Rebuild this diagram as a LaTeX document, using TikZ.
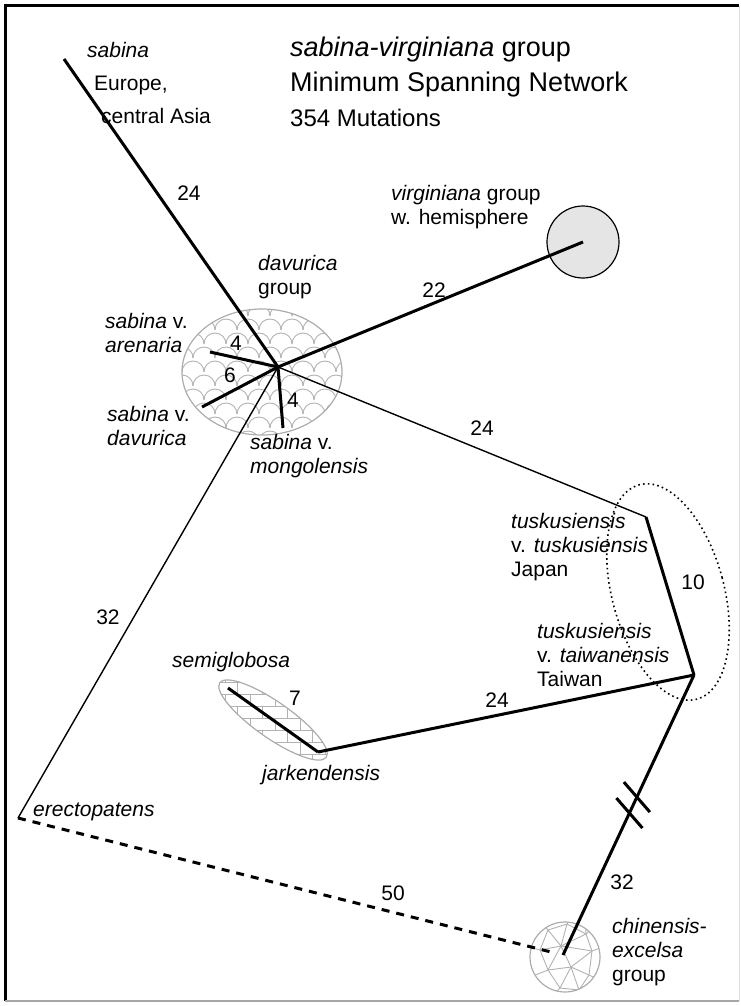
\documentclass[tikz,border=0pt]{standalone}
\usepackage{fontspec}
\setmainfont{Liberation Sans}
\usetikzlibrary{calc}

\begin{document}
\begin{tikzpicture}[x=1pt, y=-1pt,
  lbl/.style={font=\fontsize{21}{24}\selectfont, inner sep=0pt, align=left, anchor=west},
  num/.style={font=\fontsize{21}{24}\selectfont, inner sep=0pt},
  heavy/.style={line width=3pt},
  light/.style={line width=1.4pt},
  hatch/.style={gray!60, line width=0.9pt},
  rim/.style={gray!65, line width=1.2pt}]
  \useasboundingbox (0,0) rectangle (740,1006);
  \draw[line width=3pt] (5,1001) -- (5,6) -- (739,6);
  \draw[gray!70, line width=2pt] (5,1001) -- (739,1001);
  \draw[gray!25, line width=1pt] (739,6) -- (739,1001);

  \coordinate (hub) at (278,367);
  \coordinate (sab) at (64,59);
  \coordinate (are) at (210,352);
  \coordinate (dav) at (202,407);
  \coordinate (mon) at (283,428);
  \coordinate (jap) at (646,517);
  \coordinate (tai) at (694,675);
  \coordinate (jar) at (318,752);
  \coordinate (sem) at (228,688);
  \coordinate (ere) at (18,818);
  \coordinate (chi) at (563,955);
  \coordinate (chd) at (555,953);

  % davurica group
  \begin{scope}
    \clip (262,372) ellipse [x radius=80, y radius=63];
    \foreach \r [evaluate=\r as \off using {11*mod(\r,2)}] in {0,...,10}
      \foreach \c in {0,...,8}
        \draw[hatch] (171+22*\c+\off,302+14*\r) arc[start angle=180, end angle=360, radius=11];
  \end{scope}
  \draw[rim] (262,372) ellipse [x radius=80, y radius=63];

  % semiglobosa / jarkendensis
  \begin{scope}
    \clip[rotate around={-35:(273,720)}] (273,720) ellipse [x radius=65, y radius=18];
    \foreach \r [evaluate=\r as \off using {12.5*mod(\r,2)}] in {0,...,9} {
      \draw[hatch] (200,670+12*\r) -- (350,670+12*\r);
      \foreach \c in {0,...,6}
        \draw[hatch] (200+25*\c+\off,670+12*\r) -- ++(0,12);
    }
  \end{scope}
  \draw[rim, rotate around={-35:(273,720)}] (273,720) ellipse [x radius=65, y radius=18];

  % chinensis-excelsa group
  \begin{scope}
    \clip (565,957) circle [radius=35];
    \coordinate (ga) at (548,930); \coordinate (gb) at (567,924); \coordinate (gc) at (586,934);
    \coordinate (gd) at (540,950); \coordinate (ge) at (561,946); \coordinate (gf) at (592,951);
    \coordinate (gg) at (548,970); \coordinate (gh) at (571,967); \coordinate (gi) at (589,975);
    \coordinate (gj) at (560,988); \coordinate (gk) at (579,990);
    \foreach \p/\q in {ga/gb, gb/gc, ga/gd, ga/ge, gb/ge, gc/ge, gc/gf, gd/ge, ge/gf, gd/gg,
                       ge/gg, ge/gh, gf/gh, gf/gi, gg/gh, gh/gi, gg/gj, gh/gj, gh/gk, gi/gk, gj/gk}
      \draw[hatch] (\p) -- (\q);
    \foreach \p/\x/\y in {ga/536/915, gb/567/905, gc/602/920, gd/522/945, gf/608/945,
                          gg/528/978, gi/604/982, gj/548/1000, gk/590/1000, gc/585/915}
      \draw[hatch] (\p) -- (\x,\y);
  \end{scope}
  \node[circle, draw=gray!65, line width=1.2pt, minimum size=70pt, inner sep=0pt] (chc) at (565,957) {};

  \node[circle, draw, fill=gray!20, line width=1.2pt, minimum size=72pt, inner sep=0pt] (vir) at (583,242) {};
  \draw[line width=1.6pt, dash pattern=on 1.6pt off 3.2pt, rotate around={15:(668,592)}]
    (668,592) ellipse [x radius=56, y radius=111];

  \draw[heavy] (sab) -- (hub);
  \draw[heavy] (hub) -- (vir.center);
  \draw[heavy] (hub) -- (are);
  \draw[heavy] (hub) -- (dav);
  \draw[heavy] (hub) -- (mon);
  \draw[light] (hub) -- (jap);
  \draw[light] (hub) -- (ere);
  \draw[heavy] (jap) -- (tai);
  \draw[heavy] (tai) -- (jar);
  \draw[heavy] (sem) -- (jar);
  \draw[heavy] (tai) -- (chi);
  \draw[heavy, dash pattern=on 8pt off 7pt] (ere) -- (chd);
  \coordinate (h1) at ($(tai)!0.436!(chi)$);
  \coordinate (h2) at ($(tai)!0.493!(chi)$);
  \draw[heavy] ([shift={(-13,-15)}]h1) -- ([shift={(13,15)}]h1);
  \draw[heavy] ([shift={(-13,-15)}]h2) -- ([shift={(13,15)}]h2);

  \node[font=\fontsize{27}{32}\selectfont, inner sep=0pt, anchor=west] (ttl1) at (290,50) {\textit{sabina-virginiana} group};
  \node[font=\fontsize{27}{32}\selectfont, inner sep=0pt, anchor=west] (ttl2) at (290,85) {Minimum Spanning Network};
  \node[font=\fontsize{24}{28}\selectfont, inner sep=0pt, anchor=west] (ttl3) at (290,118) {354 Mutations};

  \node[lbl] (sabl) at (87,50) {\textit{sabina}};
  \node[lbl] (eur) at (94,85) {Europe,};
  \node[lbl] (cas) at (101,116) {central Asia};
  \node[lbl] (davg) at (258,277) {\textit{davurica}\\group};
  \node[lbl] (virl) at (391,207) {\textit{virginiana} group\\w. hemisphere};
  \node[lbl] (arel) at (105,333) {\textit{sabina} v.\\\textit{arenaria}};
  \node[lbl] (davl) at (107,426) {\textit{sabina} v.\\\textit{davurica}};
  \node[lbl] (monl) at (250,456) {\textit{sabina} v.\\\textit{mongolensis}};
  \node[lbl] (japl) at (511,547) {\textit{tuskusiensis}\\v. \textit{tuskusiensis}\\Japan};
  \node[lbl] (tail) at (537,655) {\textit{tuskusiensis}\\v. \textit{taiwanensis}\\Taiwan};
  \node[lbl] (chil) at (612,952) {\textit{chinensis-}\\\textit{excelsa}\\group};
  \node[lbl] (seml) at (172,662) {\textit{semiglobosa}};
  \node[lbl] (jarl) at (262,775) {\textit{jarkendensis}};
  \node[lbl] (erel) at (33,812) {\textit{erectopatens}};

  \node[num] (n1) at (189,193) {24};
  \node[num] (n2) at (434,290) {22};
  \node[num] (n3) at (236,343) {4};
  \node[num] (n4) at (230,375) {6};
  \node[num] (n5) at (293,400) {4};
  \node[num] (n6) at (482,428) {24};
  \node[num] (n7) at (108,617) {32};
  \node[num] (n8) at (693,582) {10};
  \node[num] (n9) at (295,698) {7};
  \node[num] (n10) at (497,700) {24};
  \node[num] (n11) at (393,893) {50};
  \node[num] (n12) at (622,882) {32};
\end{tikzpicture}
\end{document}
